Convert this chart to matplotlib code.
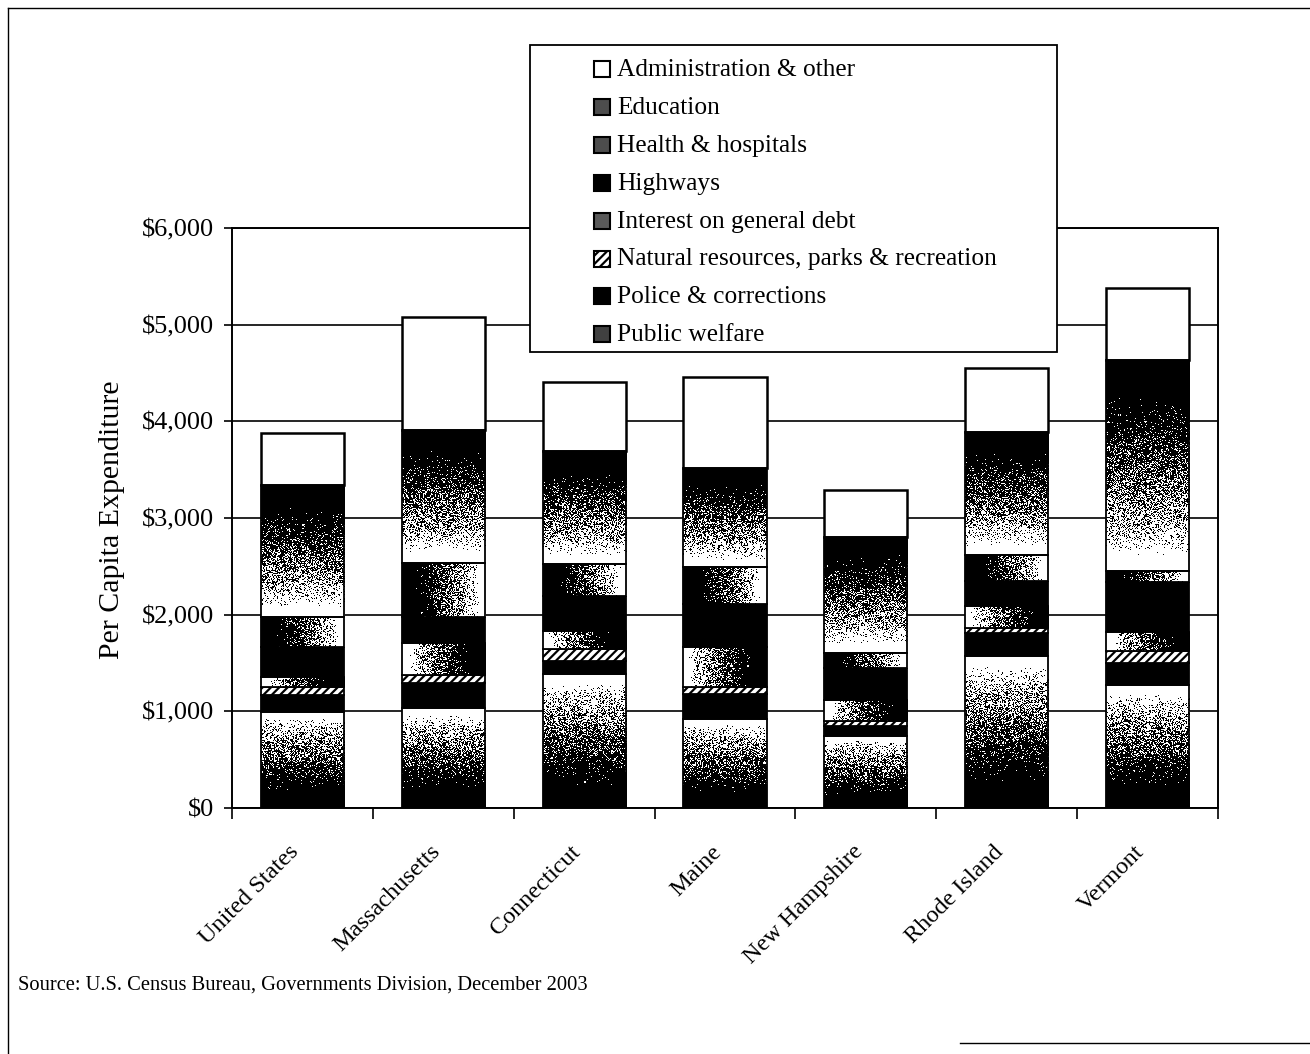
import numpy as np
import matplotlib
matplotlib.use("Agg")
import matplotlib.pyplot as plt
import matplotlib.transforms as mtransforms
from matplotlib.patches import Rectangle
from matplotlib.lines import Line2D
from matplotlib.ticker import FuncFormatter, FixedLocator

plt.rcParams["font.family"] = ["Liberation Serif", "DejaVu Serif"]
plt.rcParams["hatch.linewidth"] = 1.6

# ---- data (per capita expenditure, dollars) ----
states = ["United States", "Massachusetts", "Connecticut", "Maine",
          "New Hampshire", "Rhode Island", "Vermont"]

# stacked from bottom to top
public_welfare    = [996, 1031, 1386, 921, 745, 1569, 1268]
police            = [173, 259, 138, 258, 105, 241, 227]
natural_resources = [86, 86, 121, 69, 50, 52, 125]
interest_debt     = [103, 327, 189, 414, 220, 224, 200]
highways          = [311, 276, 363, 448, 325, 259, 520]
health            = [310, 552, 327, 380, 155, 276, 110]
education         = [1361, 1379, 1173, 1027, 1200, 1269, 2180]
administration    = [536, 1169, 706, 938, 490, 662, 750]

series_names = ["Public welfare", "Police & corrections",
                "Natural resources, parks & recreation",
                "Interest on general debt", "Highways",
                "Health & hospitals", "Education", "Administration & other"]
series_values = [public_welfare, police, natural_resources, interest_debt,
                 highways, health, education, administration]
# fill effect for each series
fills = ["grad_bottom_dark", "black", "hatch", "grad_right_dark", "black",
         "grad_left_dark", "grad_top_dark", "white"]

yticks = [0, 1000, 2000, 3000, 4000, 5000, 6000]

W, H = 1310, 1054
fig = plt.figure(figsize=(W / 100, H / 100), dpi=100)


def fx(px):
    return px / W


def fy(py):
    return 1 - py / H


ax_px = (232, 228, 1218, 808)
ax = fig.add_axes([fx(ax_px[0]), fy(ax_px[3]), fx(ax_px[2]) - fx(ax_px[0]),
                   fy(ax_px[1]) - fy(ax_px[3])])
px_per_unit_y = (ax_px[3] - ax_px[1]) / 6000.0
px_per_unit_x = (ax_px[2] - ax_px[0]) / len(states)

# stipple texture for the gradient fill effects
rng = np.random.default_rng(7)


def ramp(s):
    # s = 0 at the dark end, 1 at the light end
    return np.clip((s - 0.15) / 0.78, 0, 1) ** 1.6


def stipple(kind, w_px, h_px):
    w_px, h_px = max(int(round(w_px)), 2), max(int(round(h_px)), 2)
    if kind == "grad_top_dark":
        s = 1 - np.linspace(0, 1, h_px)[:, None] * np.ones((1, w_px))
    elif kind == "grad_bottom_dark":
        s = np.linspace(0, 1, h_px)[:, None] * np.ones((1, w_px))
    elif kind == "grad_left_dark":
        s = np.ones((h_px, 1)) * np.linspace(0, 1, w_px)[None, :]
    else:
        s = np.ones((h_px, 1)) * (1 - np.linspace(0, 1, w_px))[None, :]
    level = ramp(s)
    thresh = rng.random((h_px, w_px))
    return (level > thresh).astype(float)


x = np.arange(len(states))
bar_w = 0.59
bottom = np.zeros(len(states))
for name, vals, kind in zip(series_names, series_values, fills):
    vals = np.asarray(vals, dtype=float)
    if kind == "black":
        ax.bar(x, vals, bar_w, bottom=bottom, color="black",
               edgecolor="black", linewidth=1.3, zorder=3)
    elif kind == "white":
        ax.bar(x, vals, bar_w, bottom=bottom, color="white",
               edgecolor="black", linewidth=1.8, zorder=3)
    elif kind == "hatch":
        ax.bar(x, vals, bar_w, bottom=bottom, color="white",
               edgecolor="black", hatch="////", linewidth=1.3, zorder=3)
    else:
        bars = ax.bar(x, vals, bar_w, bottom=bottom, color="none",
                      edgecolor="black", linewidth=1.3, zorder=4)
        for rect in bars:
            x0, y0 = rect.get_x(), rect.get_y()
            bw, bh = rect.get_width(), rect.get_height()
            g = stipple(kind, bw * px_per_unit_x, bh * px_per_unit_y)
            im = ax.imshow(g, cmap="gray", vmin=0, vmax=1, origin="lower",
                           extent=(x0, x0 + bw, y0, y0 + bh),
                           aspect="auto", interpolation="nearest", zorder=3)
            im.set_clip_path(rect)
    bottom += vals

ax.set_xlim(-0.5, len(states) - 0.5)
ax.set_ylim(0, 6000)
ax.set_aspect("auto")

ax.yaxis.set_major_locator(FixedLocator(yticks))
ax.yaxis.set_major_formatter(FuncFormatter(lambda v, p: "${:,.0f}".format(v)))
ax.grid(axis="y", color="black", linewidth=1.2, zorder=0)
ax.set_axisbelow(True)
ax.tick_params(axis="y", direction="out", length=6, width=1.2, pad=7,
               labelsize=19)

ax.set_xticks(x)
ax.set_xticklabels(states, rotation=45, ha="right", rotation_mode="anchor",
                   fontsize=17.5)
ax.tick_params(axis="x", which="major", length=0, pad=24)
shift = mtransforms.ScaledTranslation(-14 / 100, 0, fig.dpi_scale_trans)
for lbl in ax.get_xticklabels():
    lbl.set_transform(lbl.get_transform() + shift)
ax.set_xticks(np.arange(-0.5, len(states), 1.0), minor=True)
ax.tick_params(axis="x", which="minor", direction="out", length=8, width=1.2)

for sp in ax.spines.values():
    sp.set_linewidth(1.4)
    sp.set_color("black")

fig.text(fx(112), fy(520), "Per Capita Expenditure", rotation=90,
         ha="center", va="center", fontsize=21.5)

fig.text(fx(18), fy(985), "Source: U.S. Census Bureau, Governments Division, December 2003",
         ha="left", va="center", fontsize=14.8)

# ---- legend box ----
fig.add_artist(Rectangle((fx(530), fy(352)), fx(1057) - fx(530), fy(45) - fy(352),
                         transform=fig.transFigure, facecolor="white",
                         edgecolor="black", linewidth=1.3, zorder=10))
legend_faces = {"grad_bottom_dark": "0.25", "black": "black", "hatch": "white",
                "grad_right_dark": "0.35", "grad_left_dark": "0.3",
                "grad_top_dark": "0.3", "white": "white"}
rows = list(zip(series_names, fills))[::-1]
for i, (name, kind) in enumerate(rows):
    cy = 69 + i * 37.9
    fig.add_artist(Rectangle((fx(594), fy(cy + 8)), fx(610) - fx(594), fy(cy - 8) - fy(cy + 8),
                             transform=fig.transFigure, facecolor=legend_faces[kind],
                             edgecolor="black", linewidth=1.5,
                             hatch="////" if kind == "hatch" else None, zorder=11))
    fig.text(fx(617), fy(cy + 1), name, ha="left", va="center", fontsize=18.3, zorder=12)

# ---- outer frame ----
fig.add_artist(Line2D([fx(8), fx(8)], [fy(8), fy(1054)], transform=fig.transFigure,
                      color="black", linewidth=1.0))
fig.add_artist(Line2D([fx(8), fx(1310)], [fy(8), fy(8)], transform=fig.transFigure,
                      color="black", linewidth=1.0))
fig.add_artist(Line2D([fx(960), fx(1310)], [fy(1043), fy(1043)], transform=fig.transFigure,
                      color="black", linewidth=1.0))

fig.savefig("out.png", dpi=100, facecolor="white")
